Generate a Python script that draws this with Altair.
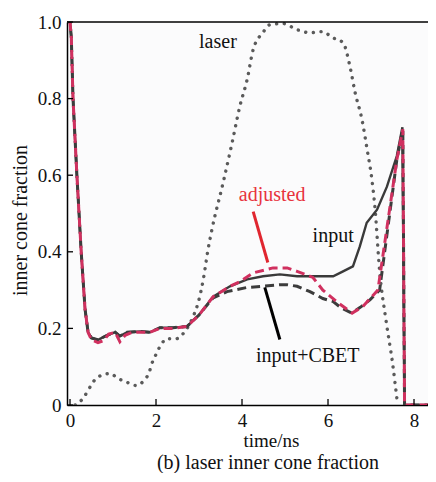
import altair as alt
import pandas as pd

# ---- data ----
input_t = [0, 0.03, 0.07, 0.16, 0.26, 0.35, 0.42, 0.5, 0.65, 0.86, 1.05, 1.16, 1.33, 1.63, 1.86, 2.09, 2.4,
           2.72, 2.86, 3.0, 3.33, 3.72, 4.12, 4.49, 4.88, 5.28, 5.65, 6.12, 6.35, 6.58, 6.74, 6.9, 7.14,
           7.37, 7.6, 7.73, 7.78, 8.6]
input_v = [1.0, 0.96, 0.80, 0.60, 0.40, 0.25, 0.19, 0.175, 0.17, 0.182, 0.19, 0.18, 0.19, 0.192, 0.19, 0.202,
           0.202, 0.205, 0.22, 0.235, 0.283, 0.31, 0.328, 0.336, 0.341, 0.336, 0.336, 0.336, 0.349, 0.362,
           0.414, 0.476, 0.51, 0.57, 0.65, 0.725, 0.0, 0.0]

adj_t = [0, 0.03, 0.07, 0.16, 0.26, 0.35, 0.42, 0.5, 0.65, 0.78, 0.9, 1.05, 1.16, 1.28, 1.45, 1.63, 1.86,
         2.09, 2.4, 2.72, 2.86, 3.0, 3.33, 3.72, 3.95, 4.26, 4.72, 5.05, 5.28, 5.65, 5.88, 6.2, 6.56, 6.81,
         7.02, 7.16, 7.6, 7.74, 7.78, 8.6]
adj_v = [1.0, 0.96, 0.80, 0.60, 0.40, 0.25, 0.19, 0.17, 0.163, 0.168, 0.185, 0.19, 0.165, 0.182, 0.19, 0.19,
         0.19, 0.2, 0.2, 0.205, 0.22, 0.235, 0.283, 0.31, 0.322, 0.345, 0.358, 0.358, 0.349, 0.333, 0.30,
         0.27, 0.24, 0.257, 0.283, 0.30, 0.64, 0.72, 0.0, 0.0]

cbet_t = [0, 0.03, 0.07, 0.16, 0.26, 0.35, 0.42, 0.5, 0.65, 0.86, 1.05, 1.16, 1.33, 1.63, 1.86, 2.09, 2.4,
          2.72, 2.86, 3.0, 3.33, 3.65, 4.12, 4.49, 4.88, 5.05, 5.28, 5.58, 5.88, 6.12, 6.3, 6.55, 6.75,
          6.98, 7.2, 7.6, 7.74, 7.78, 8.6]
cbet_v = [1.0, 0.96, 0.80, 0.60, 0.40, 0.25, 0.19, 0.175, 0.17, 0.182, 0.19, 0.18, 0.19, 0.192, 0.19, 0.202,
          0.202, 0.205, 0.22, 0.235, 0.28, 0.296, 0.307, 0.31, 0.314, 0.314, 0.31, 0.296, 0.278, 0.27,
          0.254, 0.24, 0.255, 0.275, 0.30, 0.64, 0.72, 0.0, 0.0]

laser_t = [0.12, 0.3, 0.42, 0.53, 0.72, 0.93, 1.12, 1.33, 1.53, 1.72, 1.84, 1.91, 2.0, 2.12, 2.26, 2.47,
           2.65, 2.86, 2.98, 3.1, 3.21, 3.3, 3.56, 3.77, 3.95, 4.12, 4.26, 4.49, 4.65, 4.95, 5.28, 5.58,
           5.88, 6.09, 6.35, 6.51, 6.63, 6.79, 6.91, 7.02, 7.09, 7.2, 7.35, 7.5, 7.62]
laser_v = [0.0, 0.017, 0.038, 0.059, 0.077, 0.082, 0.069, 0.059, 0.051, 0.064, 0.085, 0.11, 0.132, 0.158,
           0.173, 0.173, 0.189, 0.23, 0.267, 0.328, 0.406, 0.458, 0.58, 0.685, 0.78, 0.85, 0.928, 0.973,
           0.993, 0.996, 0.98, 0.972, 0.975, 0.96, 0.946, 0.884, 0.816, 0.745, 0.667, 0.589, 0.518, 0.35,
           0.22, 0.11, 0.0]

x_ticks = [0, 2, 4, 6, 8]
y_ticks = [0, 0.2, 0.4, 0.6, 0.8, 1.0]

label_text = ["laser", "adjusted", "input", "input+CBET"]
label_t = [3.44, 4.70, 6.12, 5.53]
label_v = [0.949, 0.547, 0.442, 0.127]
label_color = ["#111111", "#e8333d", "#111111", "#111111"]

pointer_t = [4.26, 4.53]
pointer_v = [0.505, 0.307]
pointer_t2 = [4.60, 4.88]
pointer_v2 = [0.372, 0.171]
pointer_color = ["#e0262f", "#000000"]

FONT = "Liberation Serif, Times New Roman, serif"

W = 361
H = 383
xs = alt.Scale(domain=[-0.07, W / 43.0 - 0.07], nice=False, zero=False)
ys = alt.Scale(domain=[0, 1], nice=False)

x_axis = alt.Axis(values=x_ticks, title="time/ns", tickSize=0, labelPadding=6, labelFontSize=19,
                  labelFont=FONT, labelColor="#111", titleFont=FONT, titleFontSize=19,
                  titleFontWeight="normal", titleColor="#111", titleX=204, titleY=35,
                  titleAnchor="start", titleAlign="center", titleBaseline="middle",
                  domainColor="#000", domainWidth=1.5, grid=False, format="d")
y_axis = alt.Axis(values=y_ticks, title="inner cone fraction", tickSize=0, labelPadding=6,
                  labelFontSize=19, labelFont=FONT, labelColor="#111", titleFont=FONT,
                  titleFontSize=20, titleFontWeight="normal", titleColor="#111",
                  titleAngle=-90, titleX=-47, titleY=198, titleAlign="center",
                  titleBaseline="middle", domainColor="#000", domainWidth=1.5, grid=False,
                  labelExpr="datum.value == 0 ? '0' : format(datum.value, '.1f')")

df_in = pd.DataFrame({"t": input_t, "v": input_v})
df_adj = pd.DataFrame({"t": adj_t, "v": adj_v})
df_cb = pd.DataFrame({"t": cbet_t, "v": cbet_v})
df_las = pd.DataFrame({"t": laser_t, "v": laser_v})

base_x = alt.X("t:Q", scale=xs, axis=x_axis)
base_y = alt.Y("v:Q", scale=ys, axis=y_axis)

laser = alt.Chart(df_las).mark_line(color="#5a5a5a", strokeWidth=3.4, strokeDash=[0.1, 7.6],
                                    strokeCap="round", interpolate="monotone", clip=True).encode(x=base_x, y=base_y)
inp = alt.Chart(df_in).mark_line(color="#3a3a3a", strokeWidth=2.4, clip=True).encode(x=base_x, y=base_y)
cbet = alt.Chart(df_cb).mark_line(color="#3c3c3c", strokeWidth=3, strokeDash=[9, 5],
                                  strokeDashOffset=7, clip=True).encode(x=base_x, y=base_y)
adj = alt.Chart(df_adj).mark_line(color="#d0305f", strokeWidth=3, strokeDash=[9, 5],
                                  clip=True).encode(x=base_x, y=base_y)

df_lab = pd.DataFrame({"txt": label_text, "t": label_t, "v": label_v, "c": label_color})
labels = alt.Chart(df_lab).mark_text(font=FONT, fontSize=20, align="center", baseline="middle").encode(
    x=alt.X("t:Q", scale=xs), y=alt.Y("v:Q", scale=ys), text="txt:N",
    color=alt.Color("c:N", scale=None))

df_ptr = pd.DataFrame({"t": pointer_t, "v": pointer_v, "t2": pointer_t2, "v2": pointer_v2, "c": pointer_color})
pointers = alt.Chart(df_ptr).mark_rule(strokeWidth=3).encode(
    x=alt.X("t:Q", scale=xs), y=alt.Y("v:Q", scale=ys), x2="t2:Q", y2="v2:Q",
    color=alt.Color("c:N", scale=None))

df_xt = pd.DataFrame({"t": x_ticks})
xtick_marks = alt.Chart(df_xt).mark_rule(color="#000", strokeWidth=1.3).encode(
    x=alt.X("t:Q", scale=xs), y=alt.value(H), y2=alt.value(H - 6))
df_yt = pd.DataFrame({"v": y_ticks})
ytick_marks = alt.Chart(df_yt).mark_rule(color="#000", strokeWidth=1.3).encode(
    y=alt.Y("v:Q", scale=ys), x=alt.value(0), x2=alt.value(6))

top_border = alt.Chart(pd.DataFrame({"k": [0]})).mark_rule(color="#000", strokeWidth=1.5).encode(
    x=alt.value(0), x2=alt.value(W + 8), y=alt.value(0))
bottom_ext = alt.Chart(pd.DataFrame({"k": [0]})).mark_rule(color="#000", strokeWidth=1.5).encode(
    x=alt.value(W - 1), x2=alt.value(W + 8), y=alt.value(H))

caption = alt.Chart(pd.DataFrame({"txt": ["(b) laser inner cone fraction"]})).mark_text(
    font=FONT, fontSize=20, align="center", baseline="alphabetic", color="#111").encode(
    x=alt.value(201), y=alt.value(447), text="txt:N")

chart = alt.layer(laser, inp, cbet, adj, pointers, labels, xtick_marks, ytick_marks, top_border,
                  bottom_ext, caption).properties(
    width=W, height=H,
    padding={"left": 59, "top": 14, "right": 0, "bottom": 68},
    autosize=alt.AutoSizeParams(type="none"),
    background="#ffffff",
).configure_view(strokeWidth=0, fill="#fbfbfc")

chart.save("out.html", embed_options={"renderer": "svg", "actions": False})
